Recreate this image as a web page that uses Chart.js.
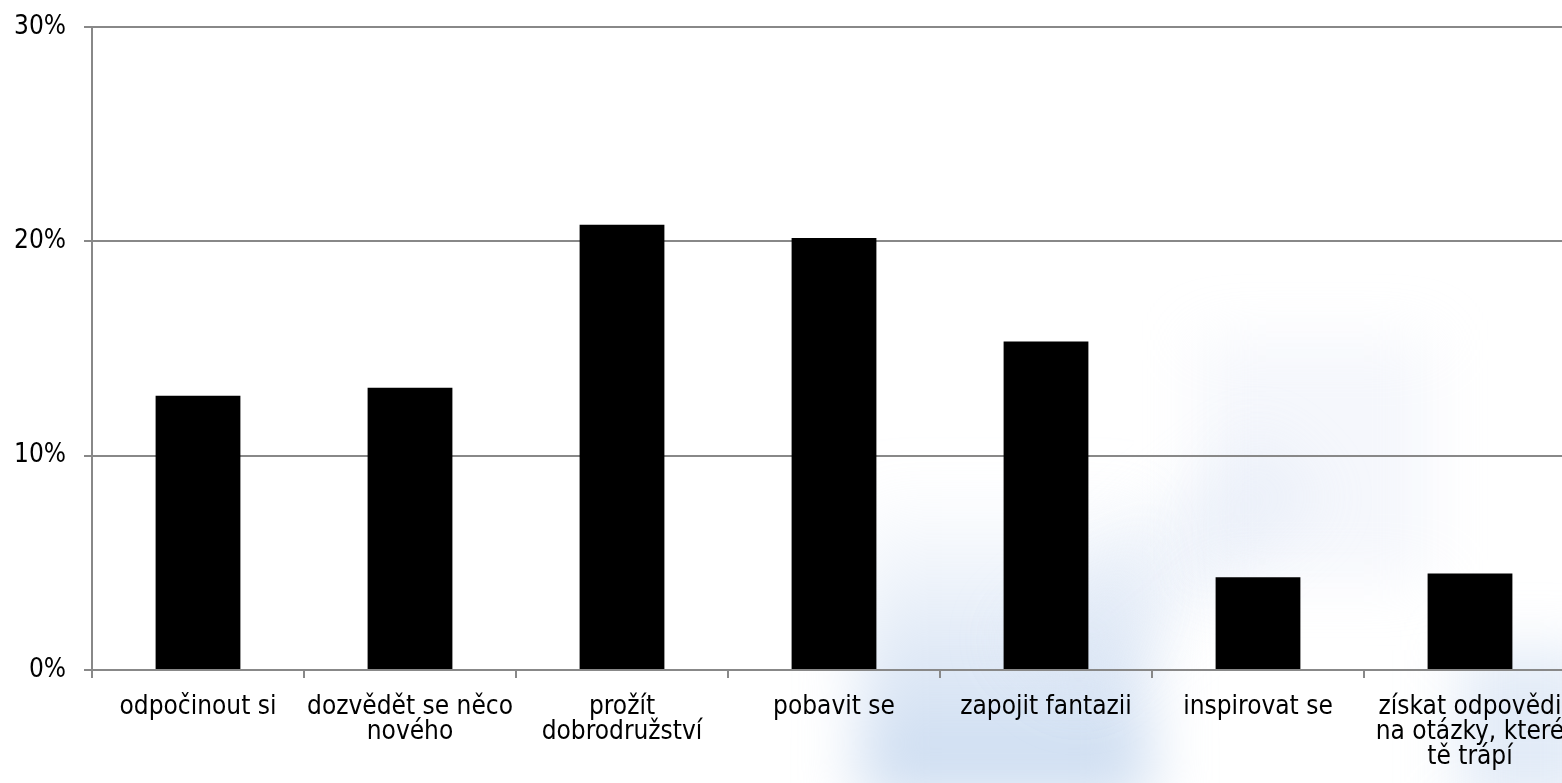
<!DOCTYPE html>
<html>
<head>
<meta charset="utf-8">
<script src="https://cdn.jsdelivr.net/npm/chart.js@4/dist/chart.umd.min.js"></script>
<style>
  html, body { margin: 0; padding: 0; overflow: hidden; background: #fff; }
  #wrap { position: relative; width: 1600px; height: 783px; }
</style>
</head>
<body>
<div id="wrap"><canvas id="grafica"></canvas></div>
<script>
// datos
const categorias = [
  'odpočinout si',
  ['dozvědět se něco', 'nového'],
  ['prožít', 'dobrodružství'],
  'pobavit se',
  'zapojit fantazii',
  'inspirovat se',
  ['získat odpovědi', 'na otázky, které', 'tě trápí']
];
const valores = [12.8, 13.17, 20.77, 20.16, 15.33, 4.33, 4.5];
const ticksY = [0, 10, 20, 30];

// fondo azulado difuminado (marca de agua)
const fondo = {
  id: 'fondo',
  beforeDraw(chart) {
    const ctx = chart.ctx;
    ctx.save();
    ctx.filter = 'blur(30px)';
    // franja vertical
    let g = ctx.createLinearGradient(0, 480, 0, 783);
    g.addColorStop(0, 'rgba(205,220,242,0.0)');
    g.addColorStop(0.5, 'rgba(195,213,238,0.45)');
    g.addColorStop(1, 'rgba(180,204,234,0.7)');
    ctx.fillStyle = g;
    ctx.fillRect(860, 480, 290, 320);
    // flecha diagonal
    ctx.fillStyle = 'rgba(215,226,243,0.35)';
    ctx.beginPath();
    ctx.moveTo(1000, 640);
    ctx.lineTo(1260, 430);
    ctx.lineTo(1330, 500);
    ctx.lineTo(1080, 700);
    ctx.closePath();
    ctx.fill();
    // bloque claro arriba
    ctx.fillStyle = 'rgba(225,233,246,0.35)';
    ctx.fillRect(1200, 340, 230, 240);
    // esquina inferior derecha
    ctx.fillStyle = 'rgba(190,210,238,0.45)';
    ctx.fillRect(1460, 650, 140, 160);
    ctx.restore();
  }
};

const ctx = document.getElementById('grafica');
new Chart(ctx, {
  type: 'bar',
  data: {
    labels: categorias,
    datasets: [{
      data: valores,
      backgroundColor: '#000',
      borderWidth: 0,
      categoryPercentage: 1,
      barPercentage: 0.4
    }]
  },
  plugins: [fondo],
  options: {
    responsive: true,
    maintainAspectRatio: false,
    animation: false,
    layout: { padding: { top: 27, right: 24, left: 0, bottom: 0 } },
    plugins: { legend: { display: false }, tooltip: { enabled: false } },
    scales: {
      x: {
        grid: { drawOnChartArea: false, drawTicks: true, tickLength: 8, color: '#888', lineWidth: 2 },
        border: { color: '#888', width: 2 },
        ticks: {
          color: '#000',
          font: { family: "'DejaVu Sans Condensed', 'DejaVu Sans'", size: 26, lineHeight: '25px' },
          maxRotation: 0,
          autoSkip: false,
          padding: 17
        },
        afterFit(scale) { scale.height = 113; scale.paddingLeft = 0; scale.paddingRight = 0; }
      },
      y: {
        min: 0,
        max: 30,
        afterBuildTicks(scale) { scale.ticks = ticksY.map(v => ({ value: v })); },
        grid: { color: '#888', lineWidth: 2, tickLength: 8 },
        border: { color: '#888', width: 2 },
        ticks: {
          color: '#000',
          font: { family: "'DejaVu Sans Condensed', 'DejaVu Sans'", size: 26 },
          padding: 18,
          callback: v => v + '%'
        },
        afterFit(scale) { scale.width = 92; scale.paddingTop = 0; scale.paddingBottom = 0; }
      }
    }
  }
});
</script>
</body>
</html>
